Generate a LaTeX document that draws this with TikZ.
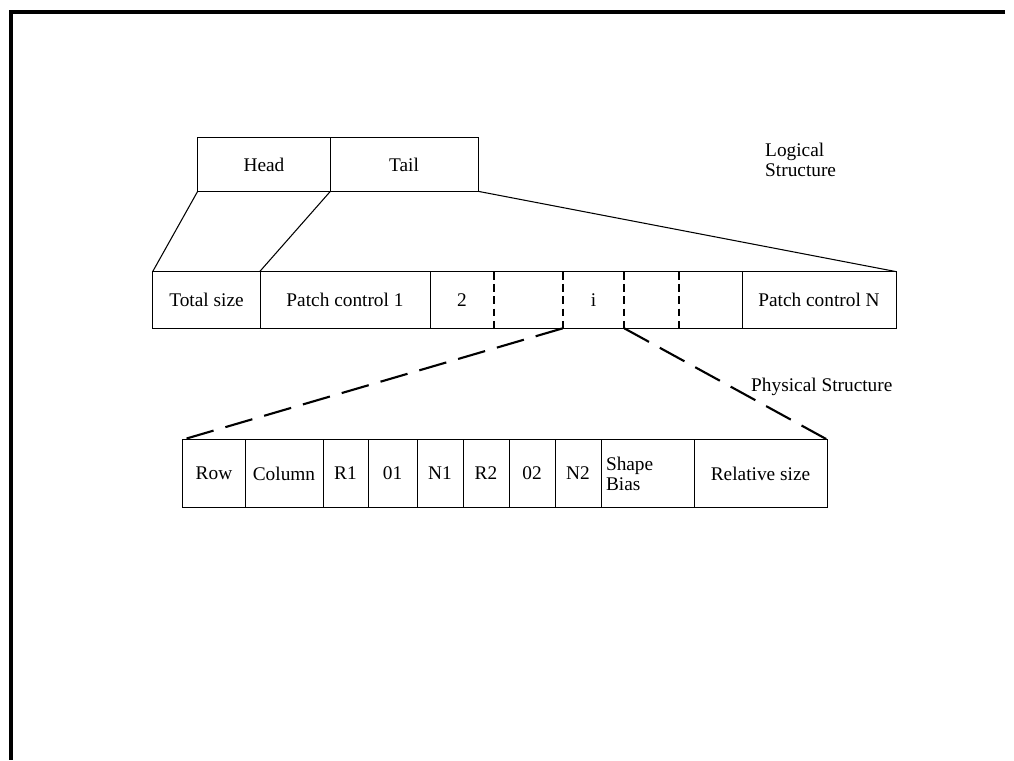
\documentclass[tikz,border=0pt]{standalone}
\usepackage{fontspec}
\setmainfont{Liberation Serif}
\usetikzlibrary{positioning}

\begin{document}
\begin{tikzpicture}[
  x=1cm,y=1cm,
  cell/.style={minimum height=1.12cm, inner sep=1pt, font=\fontsize{11}{13}\selectfont, align=center},
  frame/.style={draw=black, line width=0.6pt},
  link/.style={draw=black, line width=0.6pt},
  sep/.style={draw=black, line width=1.1pt, dash pattern=on 4.5pt off 2.5pt},
  zoom/.style={draw=black, line width=1.2pt, dash pattern=on 16pt off 7pt},
  lab/.style={font=\fontsize{11}{11.5}\selectfont, align=left, anchor=west}
]
  \useasboundingbox (0,0) rectangle (20.28,-15.2);
  \draw[line width=2.3pt] (20.1,-0.24) -- (0.22,-0.24) -- (0.22,-15.2);

  % logical structure
  \node[cell, minimum height=1.06cm, minimum width=2.64cm] (h1) at (5.28,-3.29) {Head};
  \node[cell, minimum height=1.06cm, minimum width=2.96cm] (h2) at (8.08,-3.29) {Tail};
  \draw[frame] (h1.north west) rectangle (h2.south east);
  \draw[frame] (h1.north east) -- (h1.south east);
  \node[lab] (t1) at (15.18,-3.2) {Logical\\Structure};

  \node[cell, minimum width=2.14cm] (p1) at (4.13,-6.0) {Total size};
  \node[cell, minimum width=3.40cm] (p2) at (6.90,-6.0) {Patch control 1};
  \node[cell, minimum width=1.28cm] (p3) at (9.24,-6.0) {2};
  \node[cell, minimum width=1.38cm] (p4) at (10.57,-6.0) {};
  \node[cell, minimum width=1.22cm] (p5) at (11.87,-6.0) {i};
  \node[cell, minimum width=1.10cm] (p6) at (13.03,-6.0) {};
  \node[cell, minimum width=1.26cm] (p7) at (14.21,-6.0) {};
  \node[cell, minimum width=3.08cm] (p8) at (16.38,-6.0) {Patch control N};
  \draw[frame] (p1.north west) rectangle (p8.south east);
  \foreach \c in {p1,p2,p7}
    \draw[frame] (\c.north east) -- (\c.south east);
  \foreach \c in {p3,p4,p5,p6}
    \draw[sep] (\c.north east) -- (\c.south east);

  \draw[link] (h1.south west) -- (p1.north west);
  \draw[link] (h1.south east) -- (p2.north west);
  \draw[link] (h2.south east) -- (p8.north east);

  % physical structure
  \node[lab] (t2) at (14.9,-7.74) {Physical Structure};

  \node[cell, minimum height=1.34cm, minimum width=1.24cm] (r1) at (4.28,-9.47) {Row};
  \node[cell, minimum height=1.34cm, minimum width=1.56cm] (r2) at (5.68,-9.47) {Column};
  \node[cell, minimum height=1.34cm, minimum width=0.90cm] (r3) at (6.91,-9.47) {R1};
  \node[cell, minimum height=1.34cm, minimum width=0.98cm] (r4) at (7.85,-9.47) {01};
  \node[cell, minimum height=1.34cm, minimum width=0.92cm] (r5) at (8.80,-9.47) {N1};
  \node[cell, minimum height=1.34cm, minimum width=0.92cm] (r6) at (9.72,-9.47) {R2};
  \node[cell, minimum height=1.34cm, minimum width=0.92cm] (r7) at (10.64,-9.47) {02};
  \node[cell, minimum height=1.34cm, minimum width=0.92cm] (r8) at (11.56,-9.47) {N2};
  \node[cell, minimum height=1.34cm, text width=1.66cm, inner xsep=0.1cm, align=left, font=\fontsize{11}{11.5}\selectfont] (r9) at (12.95,-9.47) {Shape\\Bias};
  \node[cell, minimum height=1.34cm, minimum width=2.66cm] (r10) at (15.21,-9.47) {Relative size};
  \draw[frame] (r1.north west) rectangle (r10.south east);
  \foreach \c in {r1,r2,r3,r4,r5,r6,r7,r8,r9}
    \draw[frame] (\c.north east) -- (\c.south east);

  \draw[zoom] (p5.south west) -- (r1.north west);
  \draw[zoom] (p5.south east) -- (r10.north east);
\end{tikzpicture}
\end{document}
